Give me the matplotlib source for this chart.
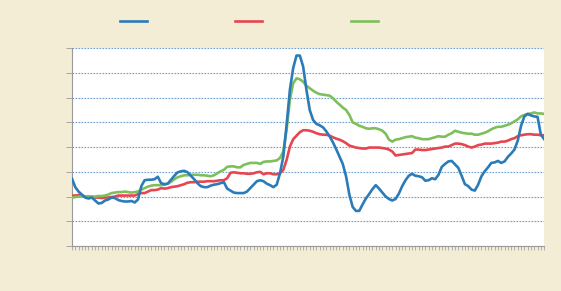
import matplotlib
matplotlib.use("Agg")
import matplotlib.pyplot as plt
import numpy as np

# Monthly index values
blue_values = [136, 119, 110, 104, 98, 96, 98, 92, 86, 87, 92, 94, 98, 97, 93, 91, 90, 90, 91, 88,
               94, 121, 133, 134, 134, 135, 140, 127, 125, 126, 134, 142, 149, 151, 152, 149, 142, 135, 127, 121,
               119, 119, 122, 124, 125, 127, 129, 116, 112, 108, 107, 107, 107, 110, 117, 124, 131, 133, 131, 126,
               123, 119, 124, 147, 181, 245, 316, 360, 385, 385, 363, 316, 275, 255, 247, 244, 240, 232, 222, 210,
               196, 181, 166, 141, 104, 79, 71, 71, 84, 96, 105, 115, 123, 116, 108, 100, 95, 92, 95, 106,
               121, 133, 142, 146, 142, 141, 139, 132, 133, 137, 135, 144, 160, 166, 171, 172, 165, 158, 142, 125,
               121, 114, 112, 124, 141, 151, 159, 168, 169, 172, 168, 171, 180, 187, 195, 213, 243, 262, 267, 264,
               262, 261, 225, 216]
red_values = [102, 102, 103, 102, 100, 100, 99, 98, 98, 97, 98, 98, 99, 100, 102, 102, 102, 102, 102, 102,
              105, 107, 107, 110, 113, 113, 114, 117, 116, 117, 119, 120, 121, 123, 125, 128, 129, 129, 130, 130,
              130, 131, 131, 131, 132, 133, 133, 137, 148, 149, 148, 147, 147, 146, 146, 147, 149, 150, 145, 147,
              147, 145, 145, 147, 154, 174, 201, 216, 223, 230, 234, 234, 233, 231, 228, 226, 225, 225, 223, 220,
              217, 215, 212, 208, 203, 201, 199, 198, 197, 197, 199, 199, 199, 199, 198, 197, 195, 191, 183, 184,
              185, 186, 187, 188, 195, 195, 194, 194, 195, 196, 197, 198, 199, 201, 201, 204, 207, 207, 206, 204,
              201, 199, 201, 204, 205, 207, 207, 207, 208, 209, 211, 211, 213, 216, 218, 222, 224, 225, 226, 226,
              225, 225, 224, 224]
green_values = [98, 99, 100, 100, 100, 100, 100, 100, 101, 101, 102, 104, 107, 108, 109, 109, 110, 109, 108, 109,
                110, 114, 117, 120, 122, 123, 123, 123, 124, 126, 130, 135, 139, 141, 143, 143, 144, 144, 144, 143,
                143, 142, 141, 143, 147, 151, 154, 160, 161, 161, 159, 159, 164, 166, 168, 168, 168, 166, 170, 171,
                171, 172, 173, 178, 191, 235, 296, 329, 339, 337, 332, 324, 319, 314, 310, 307, 306, 305, 304, 299,
                292, 286, 280, 275, 265, 250, 247, 243, 241, 238, 237, 238, 238, 236, 233, 227, 215, 211, 215, 216,
                218, 220, 221, 222, 219, 218, 216, 216, 216, 218, 220, 222, 221, 221, 225, 228, 233, 231, 229, 228,
                227, 227, 225, 225, 227, 229, 232, 236, 239, 241, 241, 243, 245, 248, 252, 256, 262, 265, 267, 268,
                270, 268, 268, 267]
y_ticks = [0, 50, 100, 150, 200, 250, 300, 350, 400]

BG = "#F3EDD6"
BLUE = "#2B7BB9"
RED = "#E6464F"
GREEN = "#7DBF5B"

x = np.arange(len(blue_values))

fig = plt.figure(figsize=(5.61, 2.91), dpi=100, facecolor=BG)
ax = fig.add_axes([0.1283, 0.1546, 0.8417, 0.680])
ax.set_facecolor("white")

lb, = ax.plot(x, blue_values, color=BLUE, lw=1.9, solid_joinstyle="round")
lr, = ax.plot(x, red_values, color=RED, lw=1.9, solid_joinstyle="round")
lg, = ax.plot(x, green_values, color=GREEN, lw=1.9, solid_joinstyle="round")
lb.set_zorder(4); lr.set_zorder(3); lg.set_zorder(3.5)

ax.set_xlim(0, len(x) - 1)
ax.set_ylim(0, 400)
ax.set_yticks(y_ticks)
ax.set_yticklabels([])
ax.set_xticks(x)
ax.set_xticklabels([])
ax.tick_params(axis="x", length=3, width=0.6, color="#A5A5A5", direction="out")
ax.tick_params(axis="y", length=4, width=0.6, color="#9A9A9A", direction="out")

ax.grid(axis="y", color="#6A9FD0", linestyle=(0, (1.5, 1.2)), linewidth=0.8)
ax.set_axisbelow(True)
for s in ["top", "right"]:
    ax.spines[s].set_visible(False)
for s in ["left", "bottom"]:
    ax.spines[s].set_color("#9A9A9A")
    ax.spines[s].set_linewidth(0.8)

fig.legend([lb, lr, lg], [" ", " ", " "], loc="center left",
           bbox_to_anchor=(0.191, 0.924), ncol=3, frameon=False,
           handlelength=1.95, handletextpad=0.8, columnspacing=5.25, fontsize=10)

fig.savefig("out.png", dpi=100, facecolor=BG)
